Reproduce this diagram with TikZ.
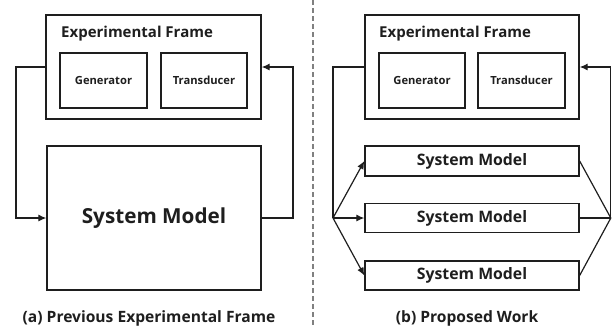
\documentclass[tikz,border=0pt]{standalone}
\usepackage{fontspec}
\setmainfont{Open Sans}
\usetikzlibrary{arrows.meta}
\definecolor{ink}{HTML}{1E1E1E}
\tikzset{
  box/.style={draw=ink, line width=1.3pt, inner sep=0pt, text=ink, font=\bfseries},
  conn/.style={draw=ink, line width=1.2pt},
  arr/.style={conn, -{Latex[length=8pt,width=7pt]}},
  lbl/.style={text=ink, inner sep=0pt, font=\bfseries},
  eftitle/.style={lbl, anchor=west, font=\bfseries\fontsize{15}{18}\selectfont},
  sub/.style={box, minimum height=55pt, font=\bfseries\fontsize{11.2}{13}\selectfont},
  smsmall/.style={box, minimum width=214pt, font=\bfseries\fontsize{15.8}{18}\selectfont},
  caption/.style={lbl, font=\bfseries\fontsize{15.6}{18}\selectfont},
}
\begin{document}
\begin{tikzpicture}[x=1pt,y=-1pt]
\useasboundingbox (0,0) rectangle (612,327);
% ---------- left panel ----------
\node[box, minimum width=215pt, minimum height=104pt] (ef1) at (153.5,67) {};
\node[eftitle] (eft1) at (61,34) {Experimental Frame};
\node[sub, minimum width=87pt] (gen1) at (103.5,80.5) {Generator};
\node[sub, minimum width=86pt] (tr1) at (204,80.5) {Transducer};
\node[box, minimum width=214pt, minimum height=144pt, font=\bfseries\fontsize{20.7}{24}\selectfont] (sm) at (154,218) {System Model};
\coordinate (l1) at (16,67);
\coordinate (l2) at (16,218);
\coordinate (r1) at (293,218);
\coordinate (r2) at (293,67);
\draw[arr] (ef1.west) -- (l1) -- (l2) -- (sm.west);
\draw[arr] (sm.east) -- (r1) -- (r2) -- (ef1.east);
\node[caption] (capa) at (149,318) {(a) Previous Experimental Frame};
% ---------- divider ----------
\coordinate (d1) at (313,0);
\coordinate (d2) at (313,327);
\draw[gray, line width=1.2pt, dash pattern=on 5pt off 3pt] (d1) -- (d2);
% ---------- right panel ----------
\node[box, minimum width=214pt, minimum height=104pt] (ef2) at (472,67) {};
\node[eftitle] (eft2) at (379,34) {Experimental Frame};
\node[sub, minimum width=86pt] (gen2) at (422,80.5) {Generator};
\node[sub, minimum width=87pt] (tr2) at (521.5,80.5) {Transducer};
\node[smsmall, minimum height=30pt] (smA) at (472,161) {System Model};
\node[smsmall, minimum height=29pt] (smB) at (472,218) {System Model};
\node[smsmall, minimum height=29pt] (smC) at (472,275.5) {System Model};
\coordinate (f1) at (333,67);
\coordinate (fork) at (333,218);
\coordinate (join) at (610.8,218);
\coordinate (j1) at (610.8,67);
\draw[conn] (ef2.west) -- (f1) -- (fork);
\draw[arr] (fork) -- (smA.west);
\draw[arr] (fork) -- (smB.west);
\draw[arr] (fork) -- (smC.west);
\draw[conn] (smA.east) -- (join);
\draw[conn] (smB.east) -- (join);
\draw[conn] (smC.east) -- (join);
\draw[arr] (join) -- (j1) -- (ef2.east);
\node[caption] (capb) at (467,318) {(b) Proposed Work};
\end{tikzpicture}
\end{document}
